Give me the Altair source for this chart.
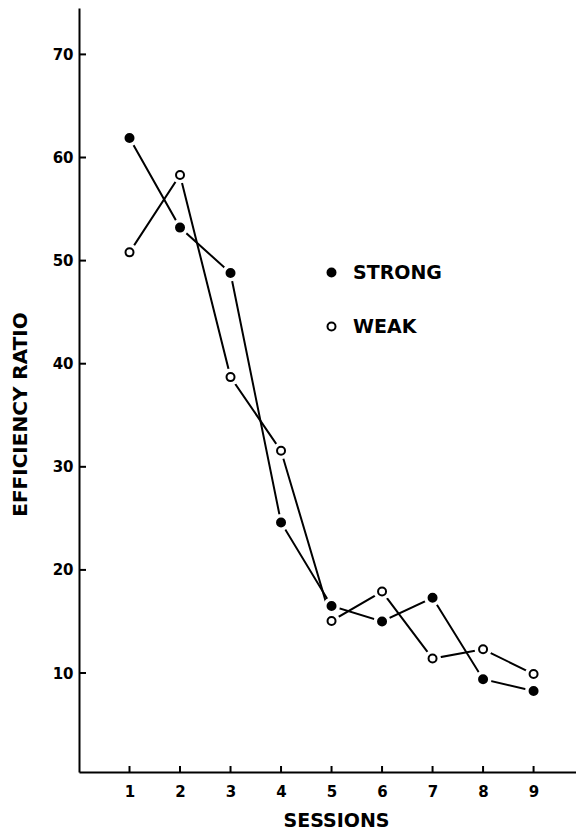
import altair as alt
import pandas as pd

sessions = [1, 2, 3, 4, 5, 6, 7, 8, 9]
strong = [61.9, 53.2, 48.8, 24.6, 16.5, 15.0, 17.3, 9.4, 8.25]
weak = [50.8, 58.3, 38.7, 31.55, 15.05, 17.9, 11.4, 12.3, 9.9]
series_names = ["STRONG", "WEAK"]
y_ticks = [10, 20, 30, 40, 50, 60, 70]

FONT = "DejaVu Sans"

df = pd.DataFrame(
    {
        "session": sessions * 2,
        "value": strong + weak,
        "group": [series_names[0]] * len(sessions) + [series_names[1]] * len(sessions),
    }
)
ytick_df = pd.DataFrame({"v": y_ticks})
xtick_df = pd.DataFrame({"s": sessions})

W, H = 497, 764

xscale = alt.Scale(domain=[0, 9.84], nice=False, zero=False)
yscale = alt.Scale(domain=[0.4, 74.5], nice=False, zero=False)

x_enc = alt.X(
    "session:Q",
    scale=xscale,
    axis=alt.Axis(
        values=sessions,
        format="d",
        ticks=False,
        tickSize=0,
        grid=False,
        domainColor="black",
        domainWidth=2,
        labelFont=FONT,
        labelFontWeight="bold",
        labelFontSize=15,
        labelColor="black",
        labelPadding=12,
        title="SESSIONS",
        titleFont=FONT,
        titleFontWeight="bold",
        titleFontSize=19,
        titleColor="black",
        titleX=257,
        titleY=48,
        titleBaseline="middle",
        titleAlign="center",
    ),
)
y_enc = alt.Y(
    "value:Q",
    scale=yscale,
    axis=alt.Axis(
        values=y_ticks,
        ticks=False,
        tickSize=0,
        grid=False,
        domainColor="black",
        domainWidth=2,
        labelFont=FONT,
        labelFontWeight="bold",
        labelFontSize=15,
        labelColor="black",
        labelPadding=6,
        title="EFFICIENCY RATIO",
        titleFont=FONT,
        titleFontWeight="bold",
        titleFontSize=20,
        titleColor="black",
        titleX=-59,
        titleY=406,
        titleAngle=270,
        titleBaseline="middle",
        titleAlign="center",
    ),
)

lines = alt.Chart(df).mark_line(color="black", strokeWidth=2).encode(
    x=x_enc, y=y_enc, detail="group:N"
)

halo = alt.Chart(df).mark_point(
    shape="circle", filled=True, color="white", opacity=1, size=290
).encode(x="session:Q", y="value:Q")

markers = alt.Chart(df).mark_point(
    shape="circle", filled=True, stroke="black", strokeWidth=2, opacity=1, size=64
).encode(
    x="session:Q",
    y="value:Q",
    fill=alt.Fill(
        "group:N",
        scale=alt.Scale(domain=series_names, range=["black", "white"]),
        legend=alt.Legend(
            title=None,
            orient="none",
            legendX=243,
            legendY=255,
            padding=0,
            symbolType="circle",
            symbolSize=64,
            symbolStrokeColor="black",
            symbolStrokeWidth=2,
            symbolOpacity=1,
            labelFont=FONT,
            labelFontWeight="bold",
            labelFontSize=19,
            labelColor="black",
            labelOffset=12,
            rowPadding=34,
        ),
    ),
)

yticks = alt.Chart(ytick_df).mark_rule(color="black", strokeWidth=2).encode(
    y=alt.Y("v:Q", scale=yscale), x=alt.value(0), x2=alt.value(7)
)
xticks = alt.Chart(xtick_df).mark_rule(color="black", strokeWidth=2).encode(
    x=alt.X("s:Q", scale=xscale), y=alt.value(H), y2=alt.value(H - 6)
)

chart = (
    alt.layer(lines, yticks, xticks, halo, markers)
    .properties(
        width=W,
        height=H,
        autosize=alt.AutoSizeParams(type="none"),
        padding={"left": 71, "top": 0, "right": 0, "bottom": 58},
        background="white",
    )
    .configure_view(stroke=None)
)

chart.save("out.html", embed_options={"renderer": "svg", "actions": False})
